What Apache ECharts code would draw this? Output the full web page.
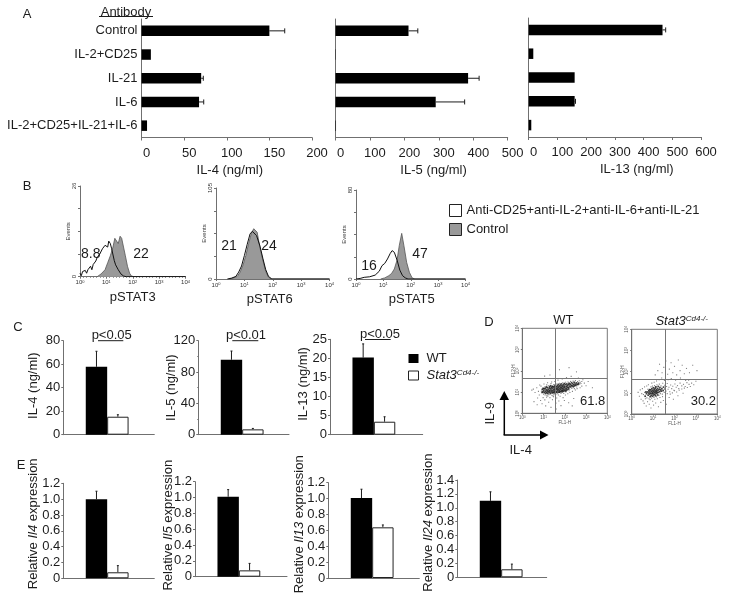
<!DOCTYPE html>
<html>
<head>
<meta charset="utf-8">
<title>Panels A-E</title>
<style>
  html, body { margin: 0; padding: 0; background: #fff; }
  #chart { width: 729px; height: 600px; }
</style>
<script src="https://cdn.jsdelivr.net/npm/echarts@6/dist/echarts.min.js"></script>
</head>
<body>
<div id="chart"></div>
<script>
// panel A
const antibodyCats = ['Control', 'IL-2+CD25', 'IL-21', 'IL-6', 'IL-2+CD25+IL-21+IL-6']
const il4Values = [150, 11, 70, 67.5, 6.5]
const il4Upper = [168, null, 72.5, 73, null]
const il5Values = [212, 1, 385, 291, 1.5]
const il5Upper = [239, null, 417, 375, null]
const il13Values = [466, 16, 160, 160, 9]
const il13Upper = [477, null, null, 163, null]

// panel B, [log10 intensity, events]
const pstat3Control = [[0.65,0],[0.8,0.8],[0.95,2],[1.05,4],[1.15,6],[1.25,8.5],[1.32,11],[1.38,11.3],[1.45,9.5],[1.52,11.6],[1.58,11],[1.65,8.5],[1.72,6],[1.8,3],[1.88,1],[1.95,0.2],[2.05,0],[4,0]]
const pstat3Blocked = [[0,1],[0.05,0.3],[0.1,1.5],[0.15,1],[0.2,1.8],[0.25,1],[0.3,2],[0.35,1.5],[0.4,3],[0.45,2],[0.5,3.5],[0.55,3],[0.6,4.5],[0.65,5.5],[0.7,5],[0.75,6.5],[0.8,7],[0.85,8],[0.9,7.5],[0.95,9],[1,9.3],[1.05,8.5],[1.09,10.2],[1.15,9.5],[1.2,8],[1.3,4.6],[1.35,3.4],[1.45,2],[1.55,0.8],[1.65,0.2],[1.75,0],[4,0]]
const pstat6Control = [[0.45,0],[0.6,1],[0.75,3],[0.85,8],[0.95,16],[1.05,27],[1.15,41],[1.25,53],[1.33,58],[1.38,60],[1.45,54],[1.55,36],[1.65,22],[1.75,9],[1.85,2],[1.95,0],[4,0]]
const pstat6Blocked = [[0.4,0],[0.55,1],[0.7,3],[0.8,8],[0.9,15],[1,27],[1.1,40],[1.2,52],[1.28,55],[1.35,57],[1.43,50],[1.55,38],[1.65,24],[1.75,11],[1.85,3],[1.97,0],[4,0]]
const pstat5Control = [[0.9,0],[1.05,1],[1.2,3],[1.3,5],[1.4,9],[1.5,17],[1.58,30],[1.67,41],[1.75,30],[1.85,15],[1.95,6],[2.05,1],[2.15,0],[4,0]]
const pstat5Blocked = [[0,0],[0.15,0.5],[0.3,1.5],[0.5,2],[0.7,3.5],[0.85,7],[0.95,12],[1.05,14],[1.15,18],[1.25,23],[1.32,25.5],[1.4,24],[1.5,17],[1.6,8],[1.7,3],[1.8,1],[1.9,0],[4,0]]

// panel C, wild type then knockout
const cIl4 = [57.8, 15.3]
const cIl4Upper = [71, 17]
const cIl5 = [95.7, 6.8]
const cIl5Upper = [106.8, 8]
const cIl13 = [20.2, 3.4]
const cIl13Upper = [23.8, 4.7]

// panel E
const eIl4 = [1, 0.076]
const eIl4Upper = [1.1, 0.16]
const eIl5 = [1.01, 0.08]
const eIl5Upper = [1.1, 0.168]
const eIl13 = [1.007, 0.638]
const eIl13Upper = [1.118, 0.668]
const eIl24 = [1.1, 0.115]
const eIl24Upper = [1.23, 0.19]

// panel D, log10 [FL1, FL2]
const wtGate = [1.57, 1.65]
const koGate = [1.57, 1.64]
const wtDense = [
  [0.93,0.98],[0.94,1.12],[0.97,1.01],[0.98,1.17],[1.01,1.07],[1.03,1.15],[1.04,0.97],
  [1.08,1.03],[1.09,1.18],[1.11,0.94],[1.12,1.1],[1.13,1.24],[1.15,0.99],[1.17,1.06],[1.18,1.21],
  [1.2,0.93],[1.21,1.13],[1.22,1.01],[1.26,1.08],[1.27,1.19],[1.28,0.97],[1.29,1.25],[1.3,1.04],
  [1.32,1.15],[1.33,1.3],[1.34,0.95],[1.36,1.09],[1.37,1.22],[1.38,1.01],[1.4,1.17],[1.41,1.27],
  [1.43,0.96],[1.44,1.06],[1.45,1.24],[1.46,1.12],[1.47,0.98],[1.5,1.19],[1.51,1.03],[1.52,1.27],
  [1.53,1.11],[1.54,0.96],[1.55,1.32],[1.56,1.07],[1.57,1.2],[1.59,1.15],[1.61,1.01],[1.62,1.25],
  [1.63,0.98],[1.64,1.1],[1.65,1.3],[1.66,1.18],[1.68,1.05],[1.69,1.36],[1.7,1.22],[1.71,1.13],[1.72,0.99],
  [1.73,1.28],[1.74,1.08],[1.76,1],[1.77,1.17],[1.78,1.33],[1.79,1.03],[1.8,1.24],[1.81,1.12],
  [1.83,1.38],[1.84,1.2],[1.85,1.06],[1.86,1.29],[1.87,1.01],[1.88,1.16],[1.9,1.09],[1.91,1.26],[1.92,1.34],
  [1.93,1.04],[1.94,1.19],[1.96,1.12],[1.97,1.4],[1.98,1.28],[1.99,1.06],[2,1.22],[2.02,1.36],[2.03,1.14],
  [2.05,1.06],[2.07,1.27],[2.08,1.18],[2.09,1.38],[2.1,1.1],[2.12,1.31],[2.13,1.23],[2.16,1.14],[2.17,1.35],
  [2.19,1.2],[2.2,1.41],[2.22,1.28],[2.25,1.37],[2.28,1.24],[2.3,1.32],[2.32,1.44],
  [2.35,1.29],[2.37,1.39],[2.4,1.25],[2.42,1.34],[2.44,1.46],[2.46,1.29],[2.48,1.38],[2.52,1.33],
  [2.54,1.43],[2.58,1.36],[2.63,1.36],[2.65,1.42]
]
const wtSparse = [
  [0.45,1.09],[0.52,1.14],[0.6,0.98],[0.68,1.2],[0.72,0.72],[0.76,1.03],[0.8,0.86],[0.82,1.33],[0.86,0.6],[0.88,1.28],
  [0.93,0.45],[0.98,0.74],[1.02,1.38],[1.06,0.63],[1.1,0.35],[1.14,0.76],[1.19,1.44],[1.24,0.52],[1.3,0.74],[1.35,0.28],
  [1.38,1.47],[1.42,0.64],[1.47,0.78],[1.53,1.5],[1.58,0.48],[1.62,0.72],[1.68,1.56],[1.72,0.58],[1.78,0.8],[1.82,0.36],
  [1.88,1.62],[1.92,0.74],[1.98,0.6],[2.03,0.86],[2.08,1.68],[2.14,0.92],[2.18,0.5],[2.24,0.98],[2.3,1.74],[2.36,1.03],
  [2.42,0.7],[2.5,1.1],[2.58,1.16],[2.64,1.66],[2.72,1.2],[2.8,1.28],[2.85,1.58],[2.92,1.42],[3,1.3],[3.1,1.5],
  [1.3,1.8],[1.75,2.05],[2.2,2.15],[2.55,1.95],[1.05,1.75],[0.7,0.4],[0.55,0.55],[3.3,1.2],[1.6,0.2],[2.35,0.35],
  [0.9,1.04],[1,0.9],[1.05,1.24],[1.07,0.86],[1.16,0.84],[1.23,1.3],[1.25,0.87],[1.31,0.89],[1.39,0.85],[1.49,0.88],
  [1.48,1.35],[1.58,0.9],[1.6,1.38],[1.67,0.92],[1.75,1.41],[1.82,0.93],[1.89,1.43],[2.04,1.46],[2.05,1.01],[2.15,1.47],
  [2.23,1.13],[2.27,1.5],[2.33,1.17],[2.39,1.52],[2.5,1.54],[2.56,1.24],[2.6,1.49],[2.68,1.53],[2.7,1.37],[2.73,1.46],
  [2.76,1.4],[2.8,1.5],[1.2,0.8],[1.44,0.82],[1.7,0.86],[1.95,0.94],[2.2,1.06],[2.45,1.16],[1.15,1.34],[1.35,1.4]
]
const koDense = [
  [0.63,0.84],[0.66,1.04],[0.69,0.96],[0.73,1.04],[0.77,0.89],[0.79,0.99],
  [0.8,1.09],[0.83,1.15],[0.84,0.94],[0.85,1.04],[0.86,0.82],[0.88,1.14],[0.89,0.98],[0.91,0.87],
  [0.92,1.08],[0.94,1.19],[0.95,0.95],[0.96,1.03],[0.98,0.84],[0.99,1.12],[1,0.98],[1.01,1.24],
  [1.02,0.9],[1.03,1.07],[1.05,1.17],[1.06,1.01],[1.08,0.93],[1.09,1.1],[1.1,1.22],[1.11,0.86],
  [1.12,1.04],[1.13,1.28],[1.14,0.97],[1.15,1.14],[1.17,1.08],[1.19,1],[1.2,1.2],[1.21,0.9],
  [1.23,1.12],[1.24,1.3],[1.25,1.02],[1.28,1.17],[1.31,1.06],[1.32,1.25],[1.35,1.14],
  [1.39,1.08],[1.41,1.2],[1.47,1.11],[1.49,1.27],[1.56,1.18]
]
const koSparse = [
  [0.3,1.02],[0.36,0.84],[0.4,1.14],[0.44,0.7],[0.47,0.96],[0.5,1.2],[0.53,0.62],[0.58,0.5],[0.6,1.28],[0.64,0.72],
  [0.68,0.38],[0.7,1.32],[0.74,0.58],[0.78,1.38],[0.82,0.46],[0.86,0.68],[0.9,0.28],[0.94,1.46],[0.98,0.6],[1.02,0.42],
  [1.05,1.5],[1.08,0.7],[1.12,0.52],[1.16,1.56],[1.2,0.72],[1.25,0.34],[1.28,1.62],[1.32,0.78],[1.36,0.55],[1.4,1.7],
  [1.44,0.82],[1.48,0.64],[1.53,1.58],[1.58,0.86],[1.62,0.46],[1.66,0.96],[1.7,1.62],[1.75,0.78],[1.8,0.94],[1.85,1.68],
  [1.9,1],[1.95,0.7],[2,1.1],[2.05,1.6],[2.1,1.04],[2.16,0.86],[2.22,1.12],[2.28,1.7],[2.34,1.18],[2.4,0.98],
  [2.46,1.22],[2.52,1.58],[2.6,1.25],[2.66,1.6],[2.74,1.3],[2.8,1.46],[2.9,1.38],[3,1.55],
  [1.1,1.85],[1.22,2.05],[1.3,2.35],[1.42,1.95],[1.5,2.2],[1.6,2.5],[1.68,1.88],[1.76,2.12],[1.84,2.42],[1.92,1.95],
  [2,2.25],[2.1,1.85],[2.18,2.55],[2.26,2.05],[2.36,2.3],[2.46,1.9],[2.56,2.15],[2.7,1.95],[2.85,2.3],[3.05,2.05],
  [0.55,0.92],[0.6,1.02],[0.71,0.76],[0.75,1.17],[0.81,0.72],[0.9,1.28],[0.93,0.75],[0.97,1.32],[1.04,0.78],[1.07,1.34],
  [1.16,0.81],[1.18,1.38],[1.27,0.88],[1.29,1.41],[1.34,0.96],[1.37,1.33],[1.43,0.94],[1.45,1.45],[1.52,1.02],[1.54,1.36],
  [1.6,1.08],[1.63,1.3],[1.66,1.44],[1.7,1.17],[1.74,1.26],[1.78,1.05],[1.82,1.37],[1.87,1.2],[1.92,1.31],[1.97,1.12],
  [2.02,1.42],[2.08,1.26],[2.14,1.34],[2.2,1.2],[2.26,1.46],[2.34,1.33],[2.42,1.4],[2.5,1.3],[2.58,1.48],[2.68,1.4]
]

const ink = '#1c1c1c'
const axisGray = '#707070'
const fontFamily = '"Liberation Sans", Arial, sans-serif'
const blocked = 'Anti-CD25+anti-IL-2+anti-IL-6+anti-IL-21'
const wt = 'WT'
const ko = 'Stat3Cd4-/-'

const grids = []
const xAxes = []
const yAxes = []
const seriesList = []

const line = (x1, y1, x2, y2, width = 1, stroke = ink) => ({
  type: 'line',
  shape: { x1, y1, x2, y2 },
  style: { stroke, lineWidth: width }
})

const errH = (params, api) => {
  const a = api.coord([api.value(0), api.value(1)])
  const b = api.coord([api.value(2), api.value(1)])
  return {
    type: 'group',
    children: [line(a[0], a[1], b[0], b[1]), line(b[0], b[1] - 2.5, b[0], b[1] + 2.5)]
  }
}

const errV = (params, api) => {
  const a = api.coord([api.value(0), api.value(1)])
  const b = api.coord([api.value(0), api.value(2)])
  return {
    type: 'group',
    children: [line(a[0], a[1], b[0], b[1]), line(b[0] - 1, b[1], b[0] + 1, b[1])]
  }
}

const addGrid = (left, top, right, bottom) => {
  grids.push({ left, top, width: right - left, height: bottom - top })
  return grids.length - 1
}

function addAntibodyChart(box, values, upper, max, step, name, nameShift, showCats) {
  const g = addGrid(...box)
  xAxes.push({
    gridIndex: g,
    type: 'value',
    min: 0,
    max,
    interval: step,
    name,
    nameLocation: 'middle',
    nameGap: 26,
    nameMoveOverlap: false,
    nameTextStyle: { color: ink, fontSize: 13, fontFamily, padding: [0, 0, 0, nameShift * 2] },
    splitLine: { show: false },
    axisLine: { show: true, lineStyle: { color: axisGray } },
    axisTick: { show: true, length: 3, lineStyle: { color: axisGray } },
    axisLabel: { color: ink, fontSize: 13, fontFamily, margin: 9, padding: [0, 0, 0, 10], showMinLabel: true, showMaxLabel: true, hideOverlap: false }
  })
  yAxes.push({
    gridIndex: g,
    type: 'category',
    inverse: true,
    data: antibodyCats,
    axisLine: { show: true, lineStyle: { color: axisGray } },
    axisTick: { show: false },
    axisLabel: { show: showCats, color: ink, fontSize: 13, fontFamily, margin: 4, interval: 0 }
  })
  const axisIndex = xAxes.length - 1
  seriesList.push({
    type: 'bar',
    name,
    xAxisIndex: axisIndex,
    yAxisIndex: axisIndex,
    data: values,
    barWidth: 10.5,
    itemStyle: { color: '#000' },
    silent: true
  })
  seriesList.push({
    type: 'custom',
    xAxisIndex: axisIndex,
    yAxisIndex: axisIndex,
    renderItem: errH,
    encode: { x: [0, 2], y: 1 },
    data: values.map((v, i) => [v, i, upper[i]]).filter(d => d[2] !== null),
    silent: true
  })
}

function addHistogram(box, max, name, nameShift, control, blockedLine) {
  const g = addGrid(...box)
  xAxes.push({
    gridIndex: g,
    type: 'value',
    min: 0,
    max: 4,
    interval: 1,
    name,
    nameLocation: 'middle',
    nameGap: 14,
    nameMoveOverlap: false,
    nameTextStyle: { color: ink, fontSize: 13, fontFamily, padding: [0, 0, 0, nameShift * 2] },
    splitLine: { show: false },
    axisLine: { show: true, lineStyle: { color: axisGray } },
    axisTick: { show: true, length: 2, lineStyle: { color: axisGray } },
    minorTick: { show: true, splitNumber: 8, length: 1, lineStyle: { color: axisGray } },
    axisLabel: {
      color: '#333',
      margin: 3,
      fontFamily,
      fontSize: 6,
      formatter: v => `10{s|${v}}`,
      rich: { s: { fontSize: 4, verticalAlign: 'top', fontFamily, color: '#333' } }
    }
  })
  yAxes.push({
    gridIndex: g,
    type: 'value',
    min: 0,
    max,
    interval: max / 4,
    name: 'Events',
    nameLocation: 'middle',
    nameGap: 9,
    nameMoveOverlap: false,
    nameTextStyle: { color: '#333', fontSize: 6, fontFamily },
    splitLine: { show: false },
    axisLine: { show: true, lineStyle: { color: axisGray } },
    axisTick: { show: true, length: 2, lineStyle: { color: axisGray } },
    axisLabel: {
      color: '#333',
      fontSize: 6,
      fontFamily,
      margin: 3,
      rotate: 90,
      formatter: v => (v === 0 || v === max ? String(v) : '')
    }
  })
  const axisIndex = xAxes.length - 1
  seriesList.push({
    type: 'line',
    name: 'Control',
    xAxisIndex: axisIndex,
    yAxisIndex: axisIndex,
    data: control,
    showSymbol: false,
    lineStyle: { color: '#555', width: 0.8 },
    itemStyle: { color: '#999' },
    areaStyle: { color: '#999', opacity: 1 },
    silent: true
  })
  seriesList.push({
    type: 'line',
    name: blocked,
    xAxisIndex: axisIndex,
    yAxisIndex: axisIndex,
    data: blockedLine,
    showSymbol: false,
    lineStyle: { color: '#111', width: 1 },
    itemStyle: { color: '#fff' },
    silent: true
  })
}

const barWide = 21.4
const groupX = [1.55, 2.55]

function addPairChart(box, values, upper, max, step, opts) {
  const g = addGrid(...box)
  xAxes.push({
    gridIndex: g,
    type: 'value',
    min: 0,
    max: (box[2] - box[0]) / barWide,
    show: true,
    splitLine: { show: false },
    axisLine: { show: true, lineStyle: { color: axisGray } },
    axisTick: { show: false },
    axisLabel: { show: false }
  })
  yAxes.push({
    gridIndex: g,
    type: 'value',
    min: 0,
    max,
    interval: step,
    name: opts.name,
    nameLocation: 'middle',
    nameGap: opts.gap,
    nameMoveOverlap: false,
    nameTextStyle: {
      color: ink,
      fontSize: 13,
      fontFamily,
      padding: [0, 0, 0, (opts.shift || 0) * 2],
      rich: {
        a: { color: ink, fontSize: 13, fontFamily },
        i: { color: ink, fontSize: 13, fontFamily, fontStyle: 'italic' }
      }
    },
    splitLine: { show: false },
    axisLine: { show: true, lineStyle: { color: axisGray } },
    axisTick: { show: true, length: 2, lineStyle: { color: axisGray } },
    minorTick: { show: !!opts.minor, splitNumber: 2, length: 1, lineStyle: { color: axisGray } },
    axisLabel: {
      color: ink,
      fontSize: 13,
      fontFamily,
      margin: 3,
      formatter: v => (opts.fixed && v !== 0 ? v.toFixed(1) : String(v))
    }
  })
  const axisIndex = xAxes.length - 1
  const shared = { type: 'bar', xAxisIndex: axisIndex, yAxisIndex: axisIndex, barWidth: barWide, barGap: '-100%', silent: true }
  seriesList.push({ ...shared, name: wt, data: [[groupX[0], values[0]]], itemStyle: { color: '#000' } })
  seriesList.push({ ...shared, name: ko, data: [[groupX[1], values[1]]], itemStyle: { color: '#fff', borderColor: '#222', borderWidth: 1 } })
  seriesList.push({
    type: 'custom',
    xAxisIndex: axisIndex,
    yAxisIndex: axisIndex,
    renderItem: errV,
    encode: { x: 0, y: [1, 2] },
    data: values.map((v, i) => [groupX[i], v, upper[i]]),
    silent: true
  })
}

function addFlowPlot(box, gate, dense, sparse) {
  const g = addGrid(...box)
  const tiny = { color: '#555', fontSize: 4.5, fontFamily }
  const logLabels = {
    ...tiny,
    formatter: v => `10{s|${v}}`,
    rich: { s: { color: '#555', fontSize: 3, verticalAlign: 'top', fontFamily } }
  }
  xAxes.push({
    gridIndex: g,
    type: 'value',
    min: 0,
    max: 4,
    interval: 1,
    name: 'FL1-H',
    nameLocation: 'middle',
    nameGap: 7,
    nameMoveOverlap: false,
    nameTextStyle: tiny,
    splitLine: { show: false },
    axisLine: { show: true, lineStyle: { color: axisGray } },
    axisTick: { show: true, length: 1.5, lineStyle: { color: axisGray } },
    axisLabel: { ...logLabels, margin: 2 }
  })
  yAxes.push({
    gridIndex: g,
    type: 'value',
    min: 0,
    max: 4,
    interval: 1,
    name: 'FL2-H',
    nameLocation: 'middle',
    nameGap: 6,
    nameMoveOverlap: false,
    nameTextStyle: tiny,
    splitLine: { show: false },
    axisLine: { show: true, lineStyle: { color: axisGray } },
    axisTick: { show: true, length: 1.5, lineStyle: { color: axisGray } },
    axisLabel: { ...logLabels, margin: 2, rotate: 90 }
  })
  grids[g].show = true
  grids[g].borderColor = '#777'
  grids[g].borderWidth = 1
  const axisIndex = xAxes.length - 1
  seriesList.push({
    type: 'scatter',
    xAxisIndex: axisIndex,
    yAxisIndex: axisIndex,
    data: sparse,
    symbol: 'rect',
    symbolSize: 1.1,
    itemStyle: { color: '#666' },
    silent: true,
    markLine: {
      silent: true,
      symbol: 'none',
      label: { show: false },
      lineStyle: { color: '#777', width: 1, type: 'solid' },
      data: [{ xAxis: gate[0] }, { yAxis: gate[1] }]
    }
  })
  seriesList.push({
    type: 'scatter',
    xAxisIndex: axisIndex,
    yAxisIndex: axisIndex,
    data: dense,
    symbol: 'rect',
    symbolSize: 1.7,
    itemStyle: { color: '#111' },
    silent: true
  })
}

addAntibodyChart([141.5, 19, 312, 137.5], il4Values, il4Upper, 200, 50, 'IL-4 (ng/ml)', 3, true)
addAntibodyChart([335.5, 19, 507.7, 137.5], il5Values, il5Upper, 500, 100, 'IL-5 (ng/ml)', 12, false)
addAntibodyChart([528.7, 18, 701, 137], il13Values, il13Upper, 600, 100, 'IL-13 (ng/ml)', 22, false)

addHistogram([80, 186, 185.5, 276.7], 26, 'pSTAT3', 0, pstat3Control, pstat3Blocked)
addHistogram([216, 188, 329.5, 279], 105, 'pSTAT6', -3, pstat6Control, pstat6Blocked)
addHistogram([356, 190, 465.5, 279], 80, 'pSTAT5', 1, pstat5Control, pstat5Blocked)

addPairChart([63.3, 340.7, 154.3, 434.7], cIl4, cIl4Upper, 80, 20, { name: 'IL-4 (ng/ml)', gap: 23, shift: 2 })
addPairChart([198.3, 340.7, 289, 434.7], cIl5, cIl5Upper, 120, 40, { name: 'IL-5 (ng/ml)', gap: 20, minor: true })
addPairChart([330, 339.3, 422.7, 434.7], cIl13, cIl13Upper, 25, 5, { name: 'IL-13 (ng/ml)', gap: 20.5, shift: 3 })

const relName = gene => `{a|Relative }{i|${gene}}{a| expression}`
addPairChart([63.3, 483.3, 154.3, 578.3], eIl4, eIl4Upper, 1.2, 0.2, { name: relName('Il4'), gap: 23.5, shift: 7, fixed: true })
addPairChart([195, 481.7, 287, 576.7], eIl5, eIl5Upper, 1.2, 0.2, { name: relName('Il5'), gap: 20, shift: 4, fixed: true })
addPairChart([328.3, 482.7, 419.3, 578], eIl13, eIl13Upper, 1.2, 0.2, { name: relName('Il13'), gap: 22.5, shift: 6, fixed: true })
addPairChart([457.3, 480, 546.7, 577.3], eIl24, eIl24Upper, 1.4, 0.2, { name: relName('Il24'), gap: 22.5, shift: 6, fixed: true })

addFlowPlot([522.3, 328.3, 607.3, 413.3], wtGate, wtDense, wtSparse)
addFlowPlot([631.7, 329.3, 717.3, 414], koGate, koDense, koSparse)

const text = (x, y, str, size = 13, extra = {}) => ({
  type: 'text',
  x,
  y,
  silent: true,
  style: { text: str, fill: ink, font: `${size}px "Liberation Sans", Arial, sans-serif`, align: 'center', verticalAlign: 'middle', ...extra }
})

const annotations = [
  text(27, 14, 'A'),
  text(27, 186, 'B'),
  text(18, 327, 'C'),
  text(489, 322, 'D'),
  text(21, 465, 'E'),
  text(126, 12, 'Antibody'),
  line(99, 16.5, 153, 16.5),
  text(90.7, 254, '8.8', 14),
  text(141, 254, '22', 14),
  text(229, 246, '21', 14),
  text(269, 246, '24', 14),
  text(369, 265.7, '16', 14),
  text(420, 254, '47', 14),
  text(111.7, 335, 'p<0.05'),
  line(98, 340.7, 123.3, 340.7),
  text(246, 335, 'p<0.01'),
  line(232.3, 340.7, 258.3, 340.7),
  text(380, 334, 'p<0.05'),
  line(365, 339.5, 390.7, 339.5),
  text(563.3, 320.7, 'WT'),
  {
    type: 'text',
    x: 681.7,
    y: 321,
    silent: true,
    style: {
      text: '{i|Stat3}{s|Cd4-/-}',
      align: 'center',
      verticalAlign: 'middle',
      rich: {
        i: { fill: ink, font: 'italic 13px "Liberation Sans", Arial, sans-serif' },
        s: { fill: ink, font: 'italic 8px "Liberation Sans", Arial, sans-serif', verticalAlign: 'top' }
      }
    }
  },
  text(592.7, 401.7, '61.8', 13),
  text(703.3, 401.7, '30.2', 13),
  line(504.3, 435, 504.3, 398, 1.5, '#000'),
  line(503.6, 435, 542, 435, 1.5, '#000'),
  { type: 'polygon', silent: true, shape: { points: [[504.3, 391], [499.5, 400], [509, 400]] }, style: { fill: '#000' } },
  { type: 'polygon', silent: true, shape: { points: [[548.5, 435], [540, 430.5], [540, 439.5]] }, style: { fill: '#000' } },
  text(490.7, 413.3, 'IL-9', 13, {}),
  text(520.7, 450, 'IL-4')
]
annotations.find(a => a.style && a.style.text === 'IL-9').rotation = Math.PI / 2

const option = {
  animation: false,
  backgroundColor: '#fff',
  textStyle: { fontFamily },
  grid: grids,
  xAxis: xAxes,
  yAxis: yAxes,
  series: seriesList,
  legend: [
    {
      left: 449,
      top: 204,
      padding: 0,
      orient: 'vertical',
      selectedMode: false,
      itemWidth: 12,
      itemHeight: 12,
      itemGap: 6,
      textStyle: { color: ink, fontSize: 13, fontFamily },
      data: [
        { name: blocked, icon: 'rect', itemStyle: { color: '#fff', borderColor: '#222', borderWidth: 1 } },
        { name: 'Control', icon: 'rect', itemStyle: { color: '#999', borderColor: '#222', borderWidth: 1 } }
      ]
    },
    {
      left: 408,
      top: 352,
      padding: 0,
      orient: 'vertical',
      selectedMode: false,
      itemWidth: 10,
      itemHeight: 9,
      itemGap: 4,
      textStyle: {
        color: ink,
        fontSize: 13,
        fontFamily,
        rich: {
          w: { color: ink, fontSize: 13, fontFamily, padding: [0, 0, 0, 3] },
          i: { color: ink, fontSize: 13, fontFamily, fontStyle: 'italic', padding: [0, 0, 0, 3] },
          s: { color: ink, fontSize: 8, fontFamily, fontStyle: 'italic', verticalAlign: 'top' }
        }
      },
      formatter: name => (name === wt ? `{w|${wt}}` : '{i|Stat3}{s|Cd4-/-}'),
      data: [
        { name: wt, icon: 'rect', itemStyle: { color: '#000' } },
        { name: ko, icon: 'rect', itemStyle: { color: '#fff', borderColor: '#222', borderWidth: 1 } }
      ]
    }
  ],
  graphic: annotations
}

const chartInstance = echarts.init(document.getElementById('chart'), null, { renderer: 'canvas' })
chartInstance.setOption(option)
window.addEventListener('resize', () => chartInstance.resize())
</script>
</body>
</html>
